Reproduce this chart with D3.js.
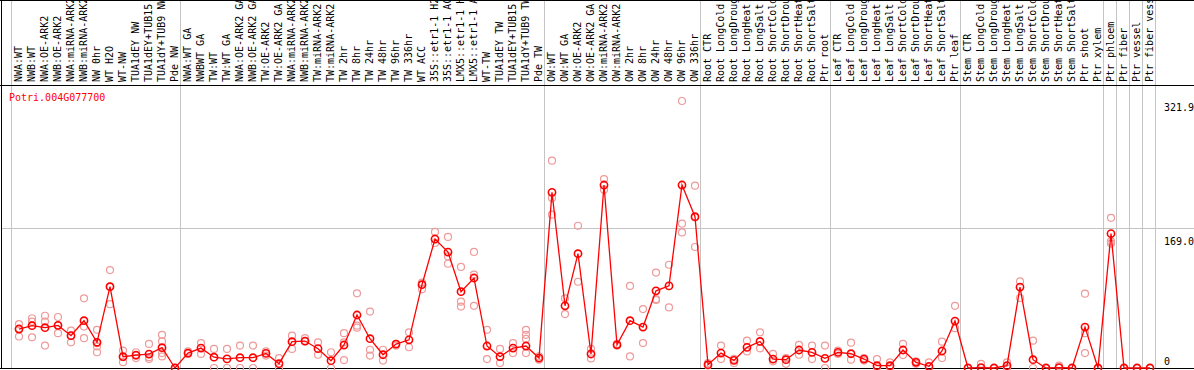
<!DOCTYPE html>
<html>
<head>
<meta charset="utf-8">
<script src="https://cdn.jsdelivr.net/npm/d3@7"></script>
<style>
  body { margin: 0; background: #fff; }
  svg { display: block; }
  text { font-family: "DejaVu Sans Mono", monospace; font-size: 10px; }
</style>
</head>
<body>
<div id="chart"></div>
<script>
// gene + sample labels
const geneName = "Potri.004G077700";

const samples = [
    "NWA:WT", "NWB:WT", "NWA:OE-ARK2", "NWB:OE-ARK2", "NWA:miRNA-ARK2", "NWB:miRNA-ARK2",
    "NW 0hr", "WT H2O", "WT-NW", "TUA1dEY NW", "TUA1dEY+TUB15 NW", "TUA1dY+TUB9 NW", "Pde NW",
    "NWA:WT GA", "NWBWT GA", "TW:WT", "TW:WT GA", "NWA:OE-ARK2 GA", "NWB:OE-ARK2 GA",
    "TW:OE-ARK2", "TW:OE-ARK2 GA", "NWA:miRNA-ARK2", "NWB:miRNA-ARK2", "TW:miRNA-ARK2", "TW:miRNA-ARK2",
    "TW 2hr", "TW 8hr", "TW 24hr", "TW 48hr", "TW 96hr", "TW 336hr", "WT ACC",
    "35S::etr1-1 H2O", "35S::etr1-1 ACC", "LMX5::etr1-1 H2O", "LMX5::etr1-1 ACC",
    "WT-TW", "TUA1dEY TW", "TUA1dEY+TUB15 TW", "TUA1dY+TUB9 TW", "Pde TW",
    "OW:WT", "OW:WT GA", "OW:OE-ARK2", "OW:OE-ARK2 GA", "OW:miRNA-ARK2", "OW:miRNA-ARK2",
    "OW 2hr", "OW 8hr", "OW 24hr", "OW 48hr", "OW 96hr", "OW 336hr",
    "Root CTR", "Root LongCold", "Root LongDrought", "Root LongHeat", "Root LongSalt",
    "Root ShortCold", "Root ShortDrought", "Root ShortHeat", "Root ShortSalt", "Ptr root",
    "Leaf CTR", "Leaf LongCold", "Leaf LongDrought", "Leaf LongHeat", "Leaf LongSalt",
    "Leaf ShortCold", "Leaf ShortDrought", "Leaf ShortHeat", "Leaf ShortSalt", "Ptr leaf",
    "Stem CTR", "Stem LongCold", "Stem LongDrought", "Stem LongHeat", "Stem LongSalt",
    "Stem ShortCold", "Stem ShortDrought", "Stem ShortHeat", "Stem ShortSalt", "Ptr shoot", "Ptr xylem",
    "Ptr phloem", "Ptr fiber", "Ptr vessel", "Ptr fiber vessel"
];

// index of first sample of each group (separator lines), last entry = end
const groupStarts = [0, 13, 41, 53, 63, 73, 84, 85, 86, 87, 88];

// mean expression per sample
const means = [
    47, 51, 48.6, 51.4, 39, 57, 31, 98, 13.6, 15.6, 16.8, 24.5, 0,
    18, 24, 13, 11, 12.4, 12.4, 17.6, 5.2, 31.7, 32.5, 23.3, 8.8,
    27.7, 63.9, 35.3, 16, 28.9, 34, 100.4, 155.5, 139.8, 92, 108.5,
    26.5, 13.6, 24, 26.5, 12,
    211.7, 75, 137.8, 16.9, 220.6, 28, 57, 49.4, 93, 99, 220.6, 182.4,
    4, 18, 9.2, 24.9, 32, 10.8, 10, 21.7, 18.8, 11.6,
    18.8, 17.2, 10.8, 2.8, 2.8, 21.7, 6.8, 2, 20.5, 56.6,
    0, 0.5, 0, 2.8, 97.6, 10, 0, 0.5, 0, 49.4, 0,
    162, 0, 0, 0
];

// replicate values per sample
const reps = [
    [53, 47, 38], [60, 56, 37], [63, 56, 27], [61.5, 51, 42], [45, 39, 31], [84, 50, 36],
    [46, 30, 26, 19], [118, 98, 77], [21, 13, 7], [19, 15, 12], [29, 13, 11], [40, 32, 18, 14], [0, 0],
    [20, 17], [30, 17], [23, 0], [23, 0], [27, 0], [27, 0], [20, 15], [12, 0],
    [39, 23], [36, 32], [31, 16], [19, 0],
    [42, 31, 9.6], [90, 51, 48.6], [68, 22, 15], [22, 9], [27, 29], [43, 25], [103, 95],
    [164, 150.7], [158, 134.5, 125.7], [121.8, 80, 74], [140, 112.5, 75],
    [46, 10.8], [23, 6], [30, 18], [46, 40, 35, 18], [14, 10],
    [250, 205, 184.8], [84, 65], [171.5, 104], [23, 11.6], [227.8, 215], [29, 27],
    [99, 14], [71, 30], [115, 83, 82], [124.5, 73], [321.9, 174, 163.5], [219.8, 145.9, 181.5],
    [6, 3], [27, 10.8], [11, 6], [33, 20], [43, 23.7], [17, 8], [12, 5], [28, 16], [27, 10.8], [27, 0],
    [21, 17], [30.5, 10], [12, 9], [10.8, 1], [6.8, 1], [29, 15.6], [8, 5], [6.8, 1], [31.7, 12], [75, 48],
    [0, 0], [5, 0], [0, 0], [6.8, 0], [104.4, 84.4], [33, 0], [0, 0], [2.8, 0], [0, 0], [89.6, 42, 18], [0, 0],
    [181, 152.6, 150], [0, 0], [0, 0], [0, 0]
];

const yTicks = [321.9, 169.0, 0];

const width = 1194, height = 370;
const plotTop = 85, plotBottom = 368;

const svg = d3.select("#chart").append("svg")
    .attr("width", width)
    .attr("height", height);

svg.append("rect").attr("width", width).attr("height", height).attr("fill", "#fff");

const x = d3.scaleBand().domain(d3.range(samples.length)).range([12.5, 12.5 + 13 * samples.length]).padding(0);
const cx = i => x(i) + x.bandwidth() / 2;
const y = d3.scaleLinear().domain([0, d3.max(yTicks)]).range([plotBottom, 101]);

// group separators
svg.append("g").selectAll("line").data(groupStarts).join("line")
    .attr("x1", d => Math.floor(x(d) !== undefined ? x(d) : 12.5 + 13 * d) - 1 + 0.5)
    .attr("x2", d => Math.floor(x(d) !== undefined ? x(d) : 12.5 + 13 * d) - 1 + 0.5)
    .attr("y1", 0).attr("y2", plotBottom)
    .attr("stroke", "#c4c4c4").attr("stroke-width", 1)
    .attr("shape-rendering", "crispEdges");

// horizontal grid line (middle tick)
svg.append("g").selectAll("line").data(yTicks.filter(v => v > 0 && v < d3.max(yTicks))).join("line")
    .attr("x1", 1).attr("x2", width)
    .attr("y1", d => Math.round(y(d)) + 0.5).attr("y2", d => Math.round(y(d)) + 0.5)
    .attr("stroke", "#c4c4c4").attr("shape-rendering", "crispEdges");

// frame
svg.append("line").attr("x1", 0).attr("x2", width).attr("y1", 0.5).attr("y2", 0.5).attr("stroke", "#000").attr("shape-rendering", "crispEdges");
svg.append("line").attr("x1", 0).attr("x2", width).attr("y1", plotTop + 0.5).attr("y2", plotTop + 0.5).attr("stroke", "#000").attr("shape-rendering", "crispEdges");
svg.append("line").attr("x1", 0).attr("x2", width).attr("y1", plotBottom + 0.5).attr("y2", plotBottom + 0.5).attr("stroke", "#000").attr("shape-rendering", "crispEdges");
svg.append("line").attr("x1", 1.5).attr("x2", 1.5).attr("y1", 0).attr("y2", plotBottom + 1).attr("stroke", "#000").attr("shape-rendering", "crispEdges");

// sample labels (rotated)
svg.append("g").selectAll("text").data(samples).join("text")
    .attr("transform", (d, i) => `translate(${cx(i) + 3},${plotTop - 3}) rotate(-90)`)
    .attr("fill", "#000")
    .text(d => d);

// y labels
const labelY = v => v === 0 ? y(v) - 3 : (v === d3.max(yTicks) ? y(v) + 10 : y(v) + 17);
svg.append("g").selectAll("text").data(yTicks).join("text")
    .attr("x", 1164).attr("y", d => labelY(d))
    .attr("fill", "#000")
    .text(d => d === 0 ? "0" : d.toFixed(1));

// gene name
svg.append("text").attr("x", 9).attr("y", 101).attr("fill", "#ff0000").text(geneName);

// replicates
const repPts = [];
reps.forEach((r, i) => r.forEach(v => repPts.push({i, v})));
svg.append("g").selectAll("circle").data(repPts).join("circle")
    .attr("cx", d => cx(d.i)).attr("cy", d => y(d.v)).attr("r", 3.5)
    .attr("fill", "none").attr("stroke", "#ef9a9a").attr("stroke-width", 1.2);

// mean line
const line = d3.line().x((d, i) => cx(i)).y(d => y(d));
svg.append("path").datum(means).attr("d", line)
    .attr("fill", "none").attr("stroke", "#ff0000").attr("stroke-width", 1.3);

svg.append("g").selectAll("circle").data(means).join("circle")
    .attr("cx", (d, i) => cx(i)).attr("cy", d => y(d)).attr("r", 3.6)
    .attr("fill", "none").attr("stroke", "#ff0000").attr("stroke-width", 1.6);
</script>
</body>
</html>
